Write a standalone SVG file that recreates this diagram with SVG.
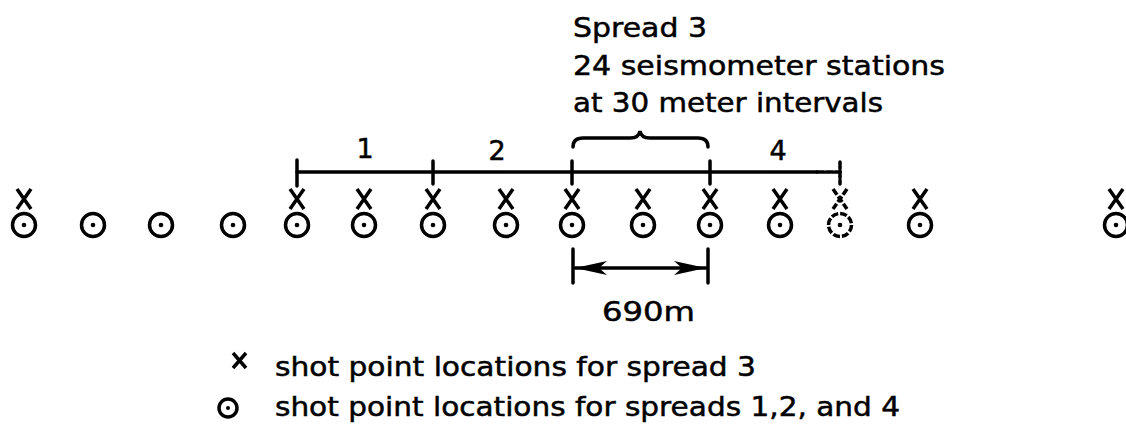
<svg xmlns="http://www.w3.org/2000/svg" width="1126" height="428" viewBox="0 0 1126 428">
<defs>
<style>
.t{font-family:"DejaVu Sans","Liberation Sans",sans-serif;font-size:27px;fill:#000;stroke:#000;stroke-width:0.5}
.ln{stroke:#000;stroke-width:3.5;fill:none;stroke-linecap:round}
.c{stroke:#000;stroke-width:3.5;fill:none}
.x{stroke:#000;stroke-width:3.5;fill:none;stroke-linecap:butt}
.d{fill:#000}
.faint{stroke-dasharray:7 2}
</style>
<marker id="ah" viewBox="0 0 32 14" refX="32" refY="7" markerWidth="32" markerHeight="14" markerUnits="userSpaceOnUse" orient="auto-start-reverse">
<path d="M0,0 L32,7 L0,14 L8,7 Z" fill="#000"/>
</marker>
<g id="circ"><circle r="11.5" class="c"/><circle r="2.3" class="d"/></g>
<g id="cross"><path d="M-7,-19 L7,1 M7,-19 L-7,1" class="x"/></g>
</defs>
<rect width="1126" height="428" fill="#fff"/>

<g id="title">
<text class="t" x="573" y="37" textLength="134" lengthAdjust="spacingAndGlyphs">Spread 3</text>
<text class="t" x="573" y="75" textLength="372" lengthAdjust="spacingAndGlyphs">24 seismometer stations</text>
<text class="t" x="573" y="112" textLength="310" lengthAdjust="spacingAndGlyphs">at 30 meter intervals</text>
</g>

<g id="connectors">
<path d="M297,172 L817,172" class="ln"/>
<path d="M817,172 L840,172" class="ln faint" stroke-width="2.5"/>
<path d="M297,160 L297,186 M433,161 L433,184 M572,161 L572,184 M710,161 L710,184" class="ln"/>
<path d="M840,162 L840,184" class="ln faint" stroke-width="2.5"/>
<path d="M573,147 Q573,138 583,138 L630,138 Q639,138 640,131 Q641,138 650,138 L698,138 Q708,138 708,147" class="ln" stroke-width="3"/>
<path d="M573,249 L573,283 M708,249 L708,283" class="ln"/>
<path d="M575,268 L706,268" class="ln" stroke-width="3" marker-start="url(#ah)" marker-end="url(#ah)"/>
</g>

<g id="labels">
<text class="t" x="365" y="158" text-anchor="middle">1</text>
<text class="t" x="497" y="160" text-anchor="middle">2</text>
<text class="t" x="778" y="160" text-anchor="middle">4</text>
<text class="t" x="602" y="321" textLength="93" lengthAdjust="spacingAndGlyphs">690m</text>
</g>

<g id="shotpoints">
<use href="#circ" x="24" y="225"/><use href="#cross" x="24" y="208"/>
<use href="#circ" x="93" y="225"/>
<use href="#circ" x="161" y="225"/>
<use href="#circ" x="233" y="225"/>
<use href="#circ" x="297" y="225"/><use href="#cross" x="297" y="208"/>
<use href="#circ" x="364" y="225"/><use href="#cross" x="364" y="208"/>
<use href="#circ" x="433" y="225"/><use href="#cross" x="433" y="208"/>
<use href="#circ" x="506" y="225"/><use href="#cross" x="506" y="208"/>
<use href="#circ" x="572" y="225"/><use href="#cross" x="572" y="208"/>
<use href="#circ" x="643" y="225"/><use href="#cross" x="643" y="208"/>
<use href="#circ" x="710" y="225"/><use href="#cross" x="710" y="208"/>
<use href="#circ" x="780" y="225"/><use href="#cross" x="780" y="208"/>
<g class="faint"><use href="#circ" x="840" y="225"/><use href="#cross" x="840" y="208"/></g>
<use href="#circ" x="920" y="225"/><use href="#cross" x="920" y="208"/>
<use href="#circ" x="1116" y="225"/><use href="#cross" x="1116" y="208"/>
</g>

<g id="legend">
<path d="M233,353 L246,368 M246,353 L233,368" class="x" stroke-width="3.2"/>
<text class="t" x="275" y="376" textLength="481" lengthAdjust="spacingAndGlyphs">shot point locations for spread 3</text>
<circle cx="228" cy="408" r="9" class="c" stroke-width="3.2"/><circle cx="228" cy="408" r="2" class="d"/>
<text class="t" x="275" y="416" textLength="625" lengthAdjust="spacingAndGlyphs">shot point locations for spreads 1,2, and 4</text>
</g>
</svg>
